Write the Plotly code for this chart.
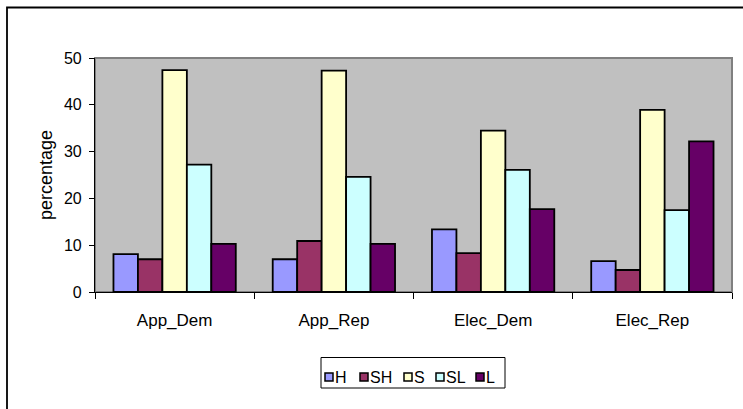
import plotly.graph_objects as go

# Grouped bar chart: percentage of each category per group
groups = ["App_Dem", "App_Rep", "Elec_Dem", "Elec_Rep"]
series_names = ["H", "SH", "S", "SL", "L"]
H = [8.1, 7.0, 13.4, 6.6]
SH = [7.0, 10.9, 8.3, 4.7]
S = [47.4, 47.3, 34.5, 38.9]
SL = [27.2, 24.6, 26.1, 17.5]
L = [10.3, 10.3, 17.7, 32.2]
series_values = [H, SH, S, SL, L]
series_colors = ["#9999FF", "#993366", "#FFFFCC", "#CCFFFF", "#660066"]
y_ticks = [0, 10, 20, 30, 40, 50]

W, HGT = 743, 409
ML, MR, MT, MB = 95, 11, 58, 117
FONT = "Liberation Sans, Arial, sans-serif"

pw = W - ML - MR
ph = HGT - MT - MB


def px_x(x):
    return (x - ML) / pw


def px_y(y):
    return (HGT - MB - y) / ph


fig = go.Figure()
for name, vals, col in zip(series_names, series_values, series_colors):
    fig.add_trace(go.Bar(
        name=name, x=groups, y=vals,
        marker=dict(color=col, line=dict(color="black", width=1.8)),
        showlegend=False,
    ))

shapes = []
annotations = []

# outer chart frame
shapes.append(dict(type="rect", xref="paper", yref="paper",
                   x0=px_x(7), x1=px_x(800), y0=px_y(7.5), y1=px_y(460),
                   line=dict(color="black", width=1.8), fillcolor="rgba(0,0,0,0)",
                   layer="below"))
# plot area border (top/right)
shapes.append(dict(type="rect", xref="paper", yref="paper",
                   x0=0, x1=1, y0=0, y1=1,
                   line=dict(color="#808080", width=2), fillcolor="rgba(0,0,0,0)",
                   layer="below"))

# legend box and entries
shapes.append(dict(type="rect", xref="paper", yref="paper",
                   x0=px_x(321), x1=px_x(505), y0=px_y(357.5), y1=px_y(388),
                   line=dict(color="black", width=1), fillcolor="white"))
sq_left = [325, 360, 404, 436, 476]
for name, col, sx in zip(series_names, series_colors, sq_left):
    shapes.append(dict(type="rect", xref="paper", yref="paper",
                       x0=px_x(sx), x1=px_x(sx + 8), y0=px_y(373), y1=px_y(381),
                       line=dict(color="black", width=1.5), fillcolor=col))
    annotations.append(dict(xref="paper", yref="paper", x=px_x(sx + 9), y=px_y(377),
                            text=name, showarrow=False, xanchor="left", yanchor="middle",
                            borderpad=0,
                            font=dict(family=FONT, size=16, color="black")))

fig.update_layout(
    width=W, height=HGT,
    margin=dict(l=ML, r=MR, t=MT, b=MB, pad=0),
    paper_bgcolor="white",
    plot_bgcolor="#C0C0C0",
    barmode="group",
    bargap=0.232,
    bargroupgap=0,
    font=dict(family=FONT, size=16, color="black"),
    shapes=shapes,
    annotations=annotations,
    showlegend=False,
    xaxis=dict(
        showgrid=False, zeroline=False,
        showline=True, linecolor="black", linewidth=1.2,
        ticks="outside", ticklen=6, tickcolor="black", tickwidth=1,
        tickson="boundaries",
        tickfont=dict(family=FONT, size=17, color="black"),
        ticklabelstandoff=12,
    ),
    yaxis=dict(
        range=[0, 50], tickvals=y_ticks,
        showgrid=False, zeroline=False,
        showline=True, linecolor="black", linewidth=1.2,
        ticks="outside", ticklen=5, tickcolor="black", tickwidth=1,
        tickfont=dict(family=FONT, size=16, color="black"),
        ticklabelstandoff=4,
        title=dict(text="percentage", font=dict(family=FONT, size=18, color="black"),
                   standoff=6),
    ),
)

fig.write_html("out.html")
